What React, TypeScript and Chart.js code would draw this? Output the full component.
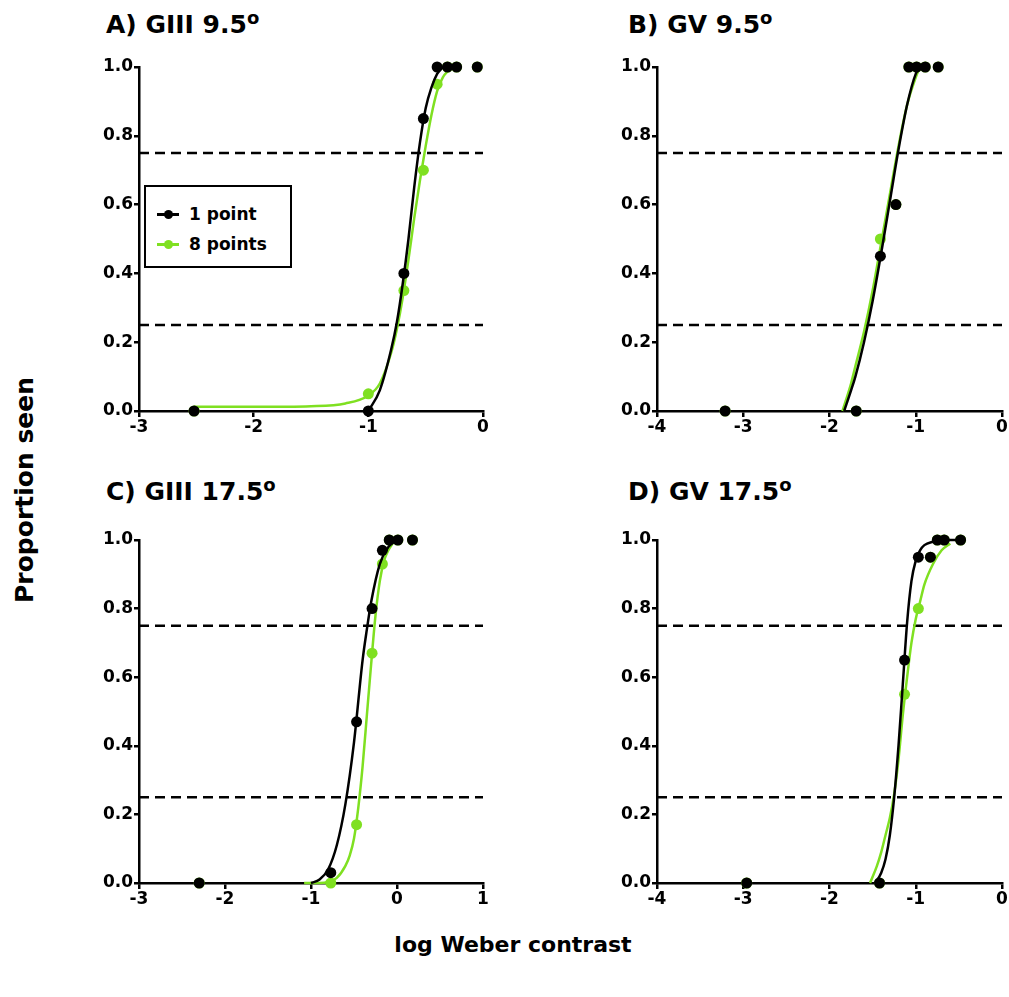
import React, { useEffect, useRef } from "react";
import { Chart, registerables } from "chart.js";
Chart.register(...registerables);

const FONT = "'DejaVu Sans', 'Liberation Sans', sans-serif";
const BLACK = "#000000";
const GREEN = "#7fe021";

// ---------- Panel A: GIII 9.5°
const aPtsX = [-2.52, -1.0, -0.69, -0.52, -0.4, -0.31, -0.23, -0.05];
const aBlackY = [0, 0, 0.4, 0.85, 1, 1, 1, 1];
const aGreenY = [0, 0.05, 0.35, 0.7, 0.95, 1, 1, 1];
const aBlackCurveX = [-1.0, -0.9, -0.8, -0.75, -0.7, -0.65, -0.6, -0.55, -0.5, -0.45, -0.4, -0.35];
const aBlackCurveY = [0.0, 0.06, 0.18, 0.26, 0.37, 0.5, 0.65, 0.78, 0.88, 0.94, 0.98, 1.0];
const aGreenCurveX = [-2.52, -2.0, -1.5, -1.2, -1.0, -0.9, -0.8, -0.75, -0.7, -0.65, -0.6, -0.55, -0.5, -0.45, -0.4, -0.35, -0.3];
const aGreenCurveY = [0.012, 0.012, 0.014, 0.022, 0.045, 0.08, 0.17, 0.24, 0.33, 0.44, 0.56, 0.67, 0.77, 0.86, 0.93, 0.97, 0.99];

// ---------- Panel B: GV 9.5°
const bPtsX = [-3.21, -1.69, -1.41, -1.23, -1.08, -0.99, -0.89, -0.74];
const bBlackY = [0, 0, 0.45, 0.6, 1, 1, 1, 1];
const bGreenY = [0, 0, 0.5, 0.6, 1, 1, 1, 1];
const bBlackCurveX = [-1.83, -1.75, -1.7, -1.6, -1.5, -1.4, -1.3, -1.2, -1.1, -1.0, -0.95];
const bBlackCurveY = [0.0, 0.06, 0.1, 0.2, 0.32, 0.46, 0.61, 0.76, 0.89, 0.98, 1.0];
const bGreenCurveX = [-1.85, -1.75, -1.7, -1.6, -1.5, -1.4, -1.3, -1.2, -1.1, -1.0, -0.95];
const bGreenCurveY = [0.0, 0.08, 0.13, 0.23, 0.35, 0.49, 0.63, 0.77, 0.89, 0.97, 1.0];

// ---------- Panel C: GIII 17.5°
const cPtsX = [-2.3, -0.77, -0.47, -0.29, -0.17, -0.09, 0.01, 0.18];
const cBlackY = [0, 0.03, 0.47, 0.8, 0.97, 1, 1, 1];
const cGreenY = [0, 0, 0.17, 0.67, 0.93, 1, 1, 1];
const cBlackCurveX = [-1.0, -0.9, -0.8, -0.7, -0.6, -0.5, -0.4, -0.35, -0.3, -0.2, -0.1, 0.0];
const cBlackCurveY = [0.0, 0.01, 0.04, 0.11, 0.23, 0.41, 0.65, 0.74, 0.82, 0.93, 0.98, 1.0];
const cGreenCurveX = [-1.08, -0.9, -0.8, -0.7, -0.6, -0.55, -0.5, -0.45, -0.4, -0.35, -0.3, -0.25, -0.2, -0.15, -0.1, -0.05];
const cGreenCurveY = [0.0, 0.0, 0.003, 0.015, 0.05, 0.08, 0.13, 0.22, 0.34, 0.49, 0.64, 0.78, 0.88, 0.94, 0.97, 0.99];

// ---------- Panel D: GV 17.5°
const dPtsX = [-2.96, -1.42, -1.13, -0.97, -0.83, -0.75, -0.67, -0.48];
const dBlackY = [0, 0, 0.65, 0.95, 0.95, 1, 1, 1];
const dGreenY = [0, 0, 0.55, 0.8, 0.95, 1, 1, 1];
const dBlackCurveX = [-1.47, -1.4, -1.35, -1.3, -1.25, -1.2, -1.15, -1.1, -1.05, -1.0, -0.95, -0.9, -0.8, -0.7, -0.5];
const dBlackCurveY = [0.0, 0.03, 0.07, 0.14, 0.25, 0.4, 0.58, 0.76, 0.88, 0.94, 0.97, 0.985, 0.995, 1.0, 1.0];
const dGreenCurveX = [-1.53, -1.45, -1.4, -1.35, -1.3, -1.25, -1.2, -1.15, -1.1, -1.05, -1.0, -0.95, -0.9, -0.8, -0.7, -0.6];
const dGreenCurveY = [0.0, 0.05, 0.09, 0.14, 0.19, 0.26, 0.36, 0.49, 0.6, 0.7, 0.77, 0.82, 0.87, 0.93, 0.97, 0.99];

const thresholds = [0.25, 0.75];
const seriesNames = ["1 point", "8 points"];
const yLabel = "Proportion seen";
const xLabel = "log Weber contrast";

type PanelSpec = {
  title: string;
  deg: string;
  xMin: number;
  xMax: number;
  ptsX: number[];
  blackY: number[];
  greenY: number[];
  bcX: number[];
  bcY: number[];
  gcX: number[];
  gcY: number[];
  area: { l: number; t: number; r: number; b: number };
  titlePos: { left: number; top: number };
};

const panels: PanelSpec[] = [
  {
    title: "A) GIII 9.5", deg: "o", xMin: -3, xMax: 0,
    ptsX: aPtsX, blackY: aBlackY, greenY: aGreenY,
    bcX: aBlackCurveX, bcY: aBlackCurveY, gcX: aGreenCurveX, gcY: aGreenCurveY,
    area: { l: 139, t: 67, r: 483, b: 411 }, titlePos: { left: 106, top: 12 },
  },
  {
    title: "B) GV 9.5", deg: "o", xMin: -4, xMax: 0,
    ptsX: bPtsX, blackY: bBlackY, greenY: bGreenY,
    bcX: bBlackCurveX, bcY: bBlackCurveY, gcX: bGreenCurveX, gcY: bGreenCurveY,
    area: { l: 657, t: 67, r: 1002, b: 411 }, titlePos: { left: 628, top: 12 },
  },
  {
    title: "C) GIII 17.5", deg: "o", xMin: -3, xMax: 1,
    ptsX: cPtsX, blackY: cBlackY, greenY: cGreenY,
    bcX: cBlackCurveX, bcY: cBlackCurveY, gcX: cGreenCurveX, gcY: cGreenCurveY,
    area: { l: 139, t: 540, r: 483, b: 883 }, titlePos: { left: 106, top: 479 },
  },
  {
    title: "D) GV 17.5", deg: "o", xMin: -4, xMax: 0,
    ptsX: dPtsX, blackY: dBlackY, greenY: dGreenY,
    bcX: dBlackCurveX, bcY: dBlackCurveY, gcX: dGreenCurveX, gcY: dGreenCurveY,
    area: { l: 657, t: 540, r: 1002, b: 883 }, titlePos: { left: 628, top: 479 },
  },
];

const zip = (xs: number[], ys: number[]) => xs.map((x, i) => ({ x, y: ys[i] }));

const PAD_L = 80;
const PAD_T = 20;
const PAD_R = 20;
const PAD_B = 35;

function Panel({ spec }: { spec: PanelSpec }) {
  const ref = useRef<HTMLCanvasElement>(null);
  const w = spec.area.r - spec.area.l + PAD_L + PAD_R;
  const h = spec.area.b - spec.area.t + PAD_T + PAD_B;
  useEffect(() => {
    const tickFont = { family: FONT, size: 17, weight: "bold" as const };
    const datasets: any[] = [
      {
        label: seriesNames[0],
        data: zip(spec.ptsX, spec.blackY),
        backgroundColor: BLACK,
        borderWidth: 0,
        pointRadius: 5.5,
        showLine: false,
        clip: false,
      },
      {
        label: seriesNames[0] + " fit",
        data: zip(spec.bcX, spec.bcY),
        borderColor: BLACK,
        borderWidth: 2.5,
        pointRadius: 0,
        showLine: true,
        cubicInterpolationMode: "monotone",
        clip: false,
      },
      {
        label: seriesNames[1],
        data: zip(spec.ptsX, spec.greenY),
        backgroundColor: GREEN,
        borderWidth: 0,
        pointRadius: 5.5,
        showLine: false,
        clip: false,
      },
      {
        label: seriesNames[1] + " fit",
        data: zip(spec.gcX, spec.gcY),
        borderColor: GREEN,
        borderWidth: 2.5,
        pointRadius: 0,
        showLine: true,
        cubicInterpolationMode: "monotone",
        clip: false,
      },
      ...thresholds.map((t) => ({
        label: "threshold " + t,
        data: [
          { x: spec.xMin, y: t },
          { x: spec.xMax, y: t },
        ],
        borderColor: BLACK,
        borderWidth: 2.5,
        borderDash: [10, 6],
        pointRadius: 0,
        showLine: true,
      })),
    ];
    const chart = new Chart(ref.current!, {
      type: "scatter",
      data: { datasets },
      options: {
        animation: false,
        responsive: false,
        devicePixelRatio: 1,
        layout: { padding: { left: 0, top: PAD_T, right: PAD_R, bottom: 0 } },
        plugins: { legend: { display: false }, tooltip: { enabled: false } },
        scales: {
          x: {
            type: "linear",
            min: spec.xMin,
            max: spec.xMax,
            afterFit: (s: any) => {
              s.height = PAD_B;
            },
            ticks: { stepSize: 1, color: BLACK, font: tickFont, padding: 0 },
            grid: {
              display: true,
              drawOnChartArea: false,
              drawTicks: true,
              tickLength: 6,
              color: BLACK,
              lineWidth: 2.5,
            },
            border: { display: true, color: BLACK, width: 2.5 },
          },
          y: {
            type: "linear",
            min: 0,
            max: 1,
            afterFit: (s: any) => {
              s.width = PAD_L;
            },
            ticks: {
              stepSize: 0.2,
              color: BLACK,
              font: tickFont,
              padding: 1,
              callback: (v: any) => Number(v).toFixed(1),
            },
            grid: {
              display: true,
              drawOnChartArea: false,
              drawTicks: true,
              tickLength: 5,
              color: BLACK,
              lineWidth: 2.5,
            },
            border: { display: true, color: BLACK, width: 2.5 },
          },
        },
      } as any,
    });
    return () => chart.destroy();
  }, [spec]);
  return (
    <div
      style={{
        position: "absolute",
        left: spec.area.l - PAD_L,
        top: spec.area.t - PAD_T,
        width: w,
        height: h,
      }}
    >
      <canvas ref={ref} width={w} height={h} />
    </div>
  );
}

const textBase: React.CSSProperties = {
  position: "absolute",
  fontFamily: FONT,
  fontWeight: "bold",
  color: BLACK,
  whiteSpace: "nowrap",
  margin: 0,
};

export default function App() {
  return (
    <div
      style={{
        position: "absolute",
        left: 0,
        top: 0,
        width: 1009,
        height: 997,
        background: "#ffffff",
        overflow: "hidden",
      }}
    >
      {panels.map((p, i) => (
        <React.Fragment key={i}>
          <Panel spec={p} />
          <div
            style={{
              ...textBase,
              left: p.titlePos.left,
              top: p.titlePos.top,
              fontSize: 25,
              lineHeight: "25px",
            }}
          >
            {p.title}
            <sup style={{ fontSize: "0.72em", lineHeight: 0, verticalAlign: "0.5em" }}>{p.deg}</sup>
          </div>
        </React.Fragment>
      ))}

      {/* Legend in panel A */}
      <div
        style={{
          position: "absolute",
          left: 144,
          top: 185,
          width: 144,
          height: 79,
          border: "2px solid #000",
          background: "#fff",
        }}
      >
        {[BLACK, GREEN].map((c, i) => (
          <div
            key={i}
            style={{
              position: "absolute",
              left: 11,
              top: 15 + i * 30,
              height: 24,
              display: "flex",
              alignItems: "center",
            }}
          >
            <div style={{ position: "relative", width: 22, height: 24 }}>
              <div
                style={{
                  position: "absolute",
                  left: 0,
                  top: 11,
                  width: 22,
                  height: 2.5,
                  background: c,
                }}
              />
              <div
                style={{
                  position: "absolute",
                  left: 6.5,
                  top: 7.5,
                  width: 9,
                  height: 9,
                  borderRadius: "50%",
                  background: c,
                }}
              />
            </div>
            <span
              style={{
                fontFamily: FONT,
                fontWeight: "bold",
                fontSize: 17,
                marginLeft: 10,
                color: BLACK,
              }}
            >
              {seriesNames[i]}
            </span>
          </div>
        ))}
      </div>

      {/* Axis titles */}
      <div
        style={{
          ...textBase,
          left: 25,
          top: 490,
          fontSize: 25,
          lineHeight: "28px",
          transform: "translate(-50%, -50%) rotate(-90deg)",
        }}
      >
        {yLabel}
      </div>
      <div
        style={{
          ...textBase,
          left: 513,
          top: 945,
          fontSize: 22,
          lineHeight: "26px",
          transform: "translate(-50%, -50%)",
        }}
      >
        {xLabel}
      </div>
    </div>
  );
}
